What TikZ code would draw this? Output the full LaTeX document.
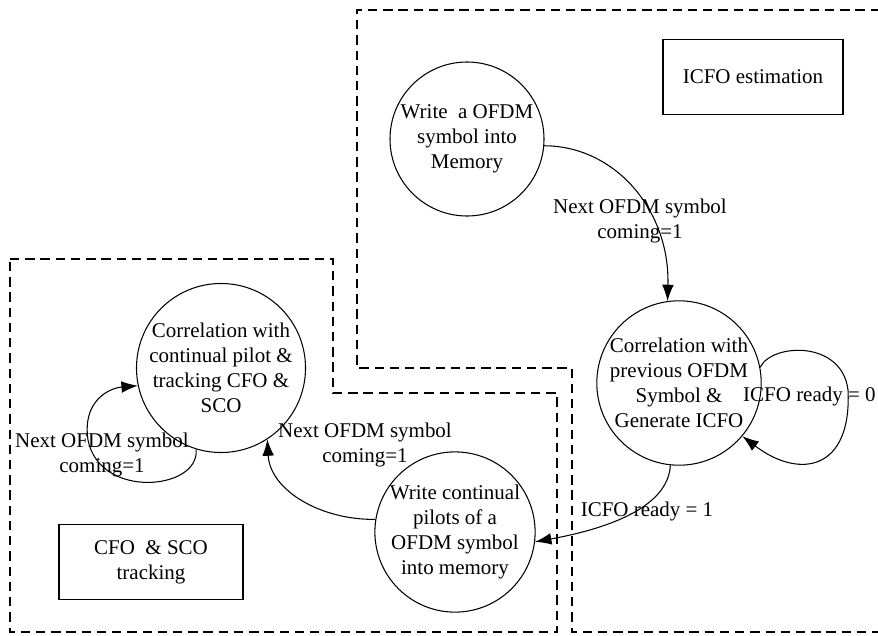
\documentclass[tikz,border=0pt]{standalone}
\usepackage{fontspec}
\setmainfont{Liberation Serif}
\usetikzlibrary{shapes.geometric, arrows.meta}
\tikzstyle{state} = [circle, draw=black, line width=0.9pt, minimum size=4.8cm, inner sep=0pt, align=center]
\tikzstyle{block} = [rectangle, draw=black, line width=0.9pt, minimum width=5.4cm, minimum height=2.25cm, align=center]
\tikzstyle{cond} = [align=center, inner sep=0pt]
\tikzstyle{edge} = [line width=0.9pt, -{Latex[length=14pt,width=10pt]}]
\tikzstyle{region} = [line width=0.9pt, dash pattern=on 8pt off 5pt]

\begin{document}
\begin{tikzpicture}[x=0.03cm, y=-0.03cm, font=\fontsize{17.9}{21.3}\selectfont]
\useasboundingbox (0,0) rectangle (878,635);

\draw [region] (880,10) -- (357,10) -- (357,368) -- (572,368) -- (572,632) -- (880,632);
\draw [region] (10,259) -- (333,259) -- (333,393) -- (557,393) -- (557,632) -- (10,632) -- cycle;

\node (0) [state, minimum size=4.62cm] at (467,139) {Write\ \ a OFDM\\symbol into\\Memory};
\node (1) [state] at (679,383) {Correlation with\\previous OFDM\\Symbol \&\\Generate ICFO};
\node (2) [state] at (455,532) {Write continual\\pilots of a\\OFDM symbol\\into memory};
\node (3) [state] at (221,368) {Correlation with\\continual pilot \&\\tracking CFO \&\\SCO};
\node (4) [block] at (753,77) {ICFO estimation};
\node (5) [block, minimum width=5.52cm] at (151,562) {CFO\ \ \& SCO\\tracking};

\draw [edge] (0.-5) .. controls (615,146) and (670,210) .. (1.98);
\draw [edge] (1.11) .. controls (772,343) and (842,340) .. (848,390) .. controls (852,470) and (800,480) .. (1.-40);
\draw [edge] (1.-96) .. controls (668,510) and (600,530) .. (2.-7);
\draw [edge] (2.171) .. controls (320,520) and (270,490) .. (3.-57);
\draw [edge] (3.-107) .. controls (200,490) and (100,500) .. (88,440) .. controls (82,400) and (110,388) .. (3.192);

\node (c01) [cond] at (640,221) {Next OFDM symbol\\coming=1};
\node (c11) [cond, anchor=west] at (743,396) {ICFO ready = 0};
\node (c12) [cond] at (647,511) {ICFO ready = 1};
\node (c21) [cond] at (365,445) {Next OFDM symbol\\coming=1};
\node (c33) [cond] at (102,455) {Next OFDM symbol\\coming=1};

\end{tikzpicture}
\end{document}
